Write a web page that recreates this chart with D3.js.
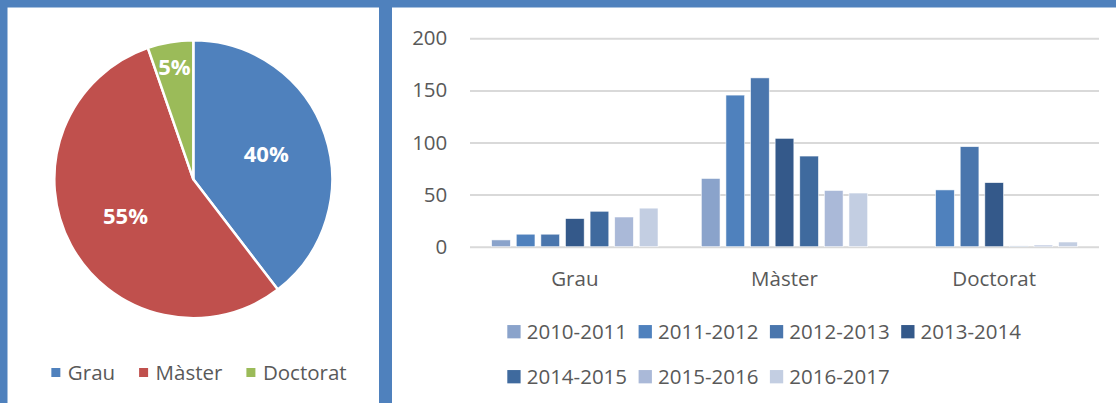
<!DOCTYPE html>
<html>
<head>
<meta charset="utf-8">
<script src="https://cdn.jsdelivr.net/npm/d3@7"></script>
<style>
  body { margin: 0; background: #4f81bd; }
  svg { display: block; }
  text { font-family: "Open Sans", sans-serif; fill: #595959; }
</style>
</head>
<body>
<script>
  // pie data (share of students per level)
  var levels = ["Grau", "Màster", "Doctorat"];
  var levelShare = [39.6, 55.1, 5.3];
  var levelColors = ["#4f81bd", "#c0504d", "#9bbb59"];

  // bar data, one array per level, one value per academic year
  var years = ["2010-2011", "2011-2012", "2012-2013", "2013-2014",
               "2014-2015", "2015-2016", "2016-2017"];
  var grau = [6.5, 12, 12, 27, 34, 28.5, 37];
  var master = [65.5, 145.5, 162, 104, 87, 54, 51.5];
  var doctorat = [0, 54.5, 96, 61.5, 0.7, 1.5, 4.5];
  var yTicks = [0, 50, 100, 150, 200];
  var yearColors = ["#8aa3cb", "#4f81bd", "#4a76ad", "#34598a",
                    "#3f6a9e", "#aab9d8", "#c3cee2"];

  var width = 1116, height = 403;

  var svg = d3.select("body").append("svg")
      .attr("width", width)
      .attr("height", height);

  // blue frame with two white panels
  svg.append("rect")
      .attr("width", width).attr("height", height)
      .attr("fill", "#4f81bd");
  svg.append("rect")
      .attr("x", 7.5).attr("y", 7.5)
      .attr("width", 379 - 7.5).attr("height", height)
      .attr("fill", "#fff");
  svg.append("rect")
      .attr("x", 392).attr("y", 7.5)
      .attr("width", width - 392).attr("height", height)
      .attr("fill", "#fff");

  // ---------- pie ----------
  var radius = 139;
  var pieG = svg.append("g")
      .attr("transform", "translate(193.3,179.2)");

  var pie = d3.pie().sort(null)(levelShare);
  var arc = d3.arc().innerRadius(0).outerRadius(radius);
  var total = d3.sum(levelShare);
  var pct = d3.format(".0%");

  pieG.selectAll("path")
      .data(pie)
      .enter().append("path")
      .attr("d", arc)
      .attr("fill", function(d, i) { return levelColors[i]; })
      .attr("stroke", "#fff")
      .attr("stroke-width", 2.5)
      .attr("stroke-linejoin", "round");

  pieG.selectAll(".plabel")
      .data(pie)
      .enter().append("text")
      .attr("class", "plabel")
      .attr("transform", function(d) {
        // narrow slices get their label pushed outward, like Excel's best fit
        var r = (d.endAngle - d.startAngle) < 0.5 ? 114 : 77;
        var c = d3.arc().innerRadius(r).outerRadius(r).centroid(d);
        return "translate(" + c[0] + "," + c[1] + ")";
      })
      .attr("text-anchor", "middle")
      .attr("dy", "0.36em")
      .style("fill", "#fff")
      .style("font-weight", 700)
      .style("font-size", "22px")
      .text(function(d) { return pct(d.value / total); });

  // pie legend
  var pieLegend = svg.append("g");
  var lx = 0;
  levels.forEach(function(name, i) {
    var item = pieLegend.append("g").attr("transform", "translate(" + lx + ",0)");
    item.append("rect")
        .attr("x", 0).attr("y", -4.5)
        .attr("width", 9).attr("height", 9)
        .attr("fill", levelColors[i]);
    var t = item.append("text")
        .attr("x", 16.5)
        .attr("dy", "0.35em")
        .style("font-size", "20.5px")
        .text(name);
    lx += 16.5 + t.node().getComputedTextLength() + 24;
  });
  lx -= 24;
  pieLegend.attr("transform", "translate(" + (199 - lx / 2) + ",372.5)");

  // ---------- grouped bars ----------
  var series = [grau, master, doctorat];
  var plotLeft = 470, plotRight = 1099;

  var y = d3.scaleLinear()
      .domain([0, 200])
      .range([246.7, 38.3]);

  var x0 = d3.scaleBand()
      .domain(levels)
      .range([plotLeft, plotRight]);

  var x1 = d3.scaleBand()
      .domain(years)
      .range([0, x0.bandwidth()])
      .paddingInner(0.24)
      .paddingOuter(0.88);

  var yAxis = svg.append("g")
      .attr("transform", "translate(" + plotLeft + ",0)")
      .call(d3.axisLeft(y)
        .tickValues(yTicks)
        .tickSize(-(plotRight - plotLeft))
        .tickFormat(d3.format("d")));
  yAxis.select(".domain").remove();
  yAxis.selectAll("line")
      .attr("stroke", "#d9d9d9")
      .attr("stroke-width", 2);
  yAxis.selectAll("text")
      .attr("x", -22.7)
      .attr("fill", "#595959")
      .style("font-family", "Open Sans")
      .style("font-size", "20.5px");

  var groups = svg.append("g").selectAll("g")
      .data(series)
      .enter().append("g")
      .attr("transform", function(d, i) { return "translate(" + x0(levels[i]) + ",0)"; });

  groups.selectAll("rect")
      .data(function(d) { return d.map(function(v, j) { return {year: years[j], value: v, i: j}; }); })
      .enter().append("rect")
      .attr("x", function(d) { return x1(d.year); })
      .attr("y", function(d) { return y(d.value); })
      .attr("width", x1.bandwidth())
      .attr("height", function(d) { return y(0) - y(d.value); })
      .attr("fill", function(d) { return yearColors[d.i]; })
      .attr("stroke", "#fff")
      .attr("stroke-width", 0.7)
      .attr("stroke-opacity", function(d) { return d.value > 0 ? 0.8 : 0; });

  // category labels
  svg.append("g").selectAll("text")
      .data(levels)
      .enter().append("text")
      .attr("x", function(d) { return x0(d) + x0.bandwidth() / 2; })
      .attr("y", 285.5)
      .attr("text-anchor", "middle")
      .style("font-size", "20.5px")
      .text(function(d) { return d; });

  // year legend, 4 per row
  var legend = svg.append("g").selectAll("g")
      .data(years)
      .enter().append("g")
      .attr("transform", function(d, i) {
        return "translate(" + (507.3 + (i % 4) * 131.3) + "," + (331.7 + Math.floor(i / 4) * 45) + ")";
      });
  legend.append("rect")
      .attr("y", -6.65)
      .attr("width", 13.3).attr("height", 13.3)
      .attr("fill", function(d, i) { return yearColors[i]; });
  legend.append("text")
      .attr("x", 19.4)
      .attr("dy", "0.36em")
      .style("font-size", "20.5px")
      .text(function(d) { return d; });
</script>
</body>
</html>
